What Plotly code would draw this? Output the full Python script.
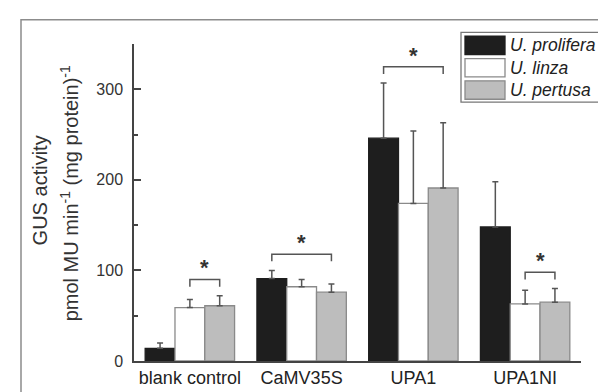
import plotly.graph_objects as go

categories = ["blank control", "CaMV35S", "UPA1", "UPA1NI"]
series_names = ["U. prolifera", "U. linza", "U. pertusa"]
prolifera = [14, 91, 246, 148]
linza = [59, 82, 174, 63]
pertusa = [61, 76, 191, 65]
prolifera_err = [6, 9, 61, 50]
linza_err = [9, 8, 80, 15]
pertusa_err = [11, 9, 72, 15]
# significance brackets: (category index, first series, last series)
sig_pairs = [(0, 1, 2), (1, 0, 2), (2, 0, 2), (3, 1, 2)]
y_ticks = [0, 100, 200, 300]
y_minor = [50, 150, 250, 350]

values = [prolifera, linza, pertusa]
errors = [prolifera_err, linza_err, pertusa_err]
fills = ["#1e1e1e", "#ffffff", "#bdbdbd"]
outlines = ["#1e1e1e", "#8a8a8a", "#8a8a8a"]

W, H = 606, 392
L, R, T, B = 126, 573, 36, 363
FONT = "Liberation Sans, Arial"


def px(x):
    return (x - L) / (R - L)


def py(y):
    return (B - y) / (B - T)


fig = go.Figure()
for name, v, e, f, o in zip(series_names, values, errors, fills, outlines):
    fig.add_trace(go.Bar(
        x=categories, y=v, name=name,
        marker=dict(color=f, line=dict(color=o, width=1.3)),
        error_y=dict(type="data", array=e, symmetric=False, arrayminus=[0] * len(e),
                     color="#555555", thickness=1.5, width=3),
        showlegend=False,
    ))

bargap = 0.2
bw = (1 - bargap) / 3
offsets = [-bw, 0, bw]

shapes = []
annotations = []
for ci, s0, s1 in sig_pairs:
    tops = [values[s][ci] + errors[s][ci] for s in range(s0, s1 + 1)]
    mx = max(tops)
    y0, y1 = mx + 10, mx + 18
    xa, xb = ci + offsets[s0], ci + offsets[s1]
    shapes.append(dict(type="path", xref="x", yref="y",
                       path=f"M {xa} {y0} L {xa} {y1} L {xb} {y1} L {xb} {y0}",
                       line=dict(color="#555555", width=1.5)))
    annotations.append(dict(x=(xa + xb) / 2, y=y1, xref="x", yref="y", text="<b>*</b>",
                            showarrow=False, yanchor="bottom", yshift=-3,
                            font=dict(size=22, color="#333333", family=FONT)))

# outer frame
shapes.append(dict(type="path", xref="paper", yref="paper",
                   path=f"M {px(13)} {py(400)} L {px(13)} {py(11)} L {px(612)} {py(11)}",
                   line=dict(color="#8c8c8c", width=1.5)))

# legend
shapes.append(dict(type="rect", xref="paper", yref="paper",
                   x0=px(453), x1=px(604.5), y0=py(96), y1=py(24),
                   line=dict(color="#777777", width=1.3), fillcolor="#ffffff"))
row_tops = [28, 51, 74]
for name, f, o, rt in zip(series_names, fills, outlines, row_tops):
    shapes.append(dict(type="rect", xref="paper", yref="paper",
                       x0=px(457), x1=px(497), y0=py(rt + 19), y1=py(rt),
                       line=dict(color=o, width=1.3), fillcolor=f))
    annotations.append(dict(x=px(500), y=py(rt + 9.5), xref="paper", yref="paper",
                            text=f"<i>{name}</i>", showarrow=False,
                            xanchor="left", yanchor="middle",
                            font=dict(size=17.5, color="#222222", family=FONT)))

# y-axis title
annotations.append(dict(x=px(32), y=py(187), xref="paper", yref="paper",
                        text="GUS activity", textangle=-90, showarrow=False,
                        xanchor="center", yanchor="middle",
                        font=dict(size=20, color="#333333", family=FONT)))
annotations.append(dict(x=px(61), y=py(190), xref="paper", yref="paper",
                        text="pmol MU min<sup>-1</sup> (mg protein)<sup>-1</sup>", textangle=-90,
                        showarrow=False, xanchor="center", yanchor="middle",
                        font=dict(size=20, color="#333333", family=FONT)))

fig.update_layout(
    width=W, height=H,
    margin=dict(l=L, r=W - R, t=T, b=H - B, pad=0),
    paper_bgcolor="white", plot_bgcolor="white",
    barmode="group", bargap=bargap, bargroupgap=0,
    shapes=shapes, annotations=annotations,
    font=dict(family=FONT, color="#333333"),
)
fig.update_xaxes(range=[-0.5, 3.5], showline=True, linecolor="#444444", linewidth=1.5,
                 ticks="", showgrid=False, zeroline=False,
                 tickfont=dict(size=18, color="#222222"))
fig.update_yaxes(range=[0, 350], showline=True, linecolor="#444444", linewidth=1.5,
                 tickvals=y_ticks, ticktext=[str(t) for t in y_ticks],
                 ticks="inside", ticklen=7, tickwidth=1.5, tickcolor="#444444",
                 minor=dict(tickvals=y_minor, ticks="inside", ticklen=4, tickwidth=1.5, tickcolor="#444444"),
                 showgrid=False, zeroline=False, ticklabelstandoff=6,
                 tickfont=dict(size=16, color="#333333"))

fig.write_html("out.html")
